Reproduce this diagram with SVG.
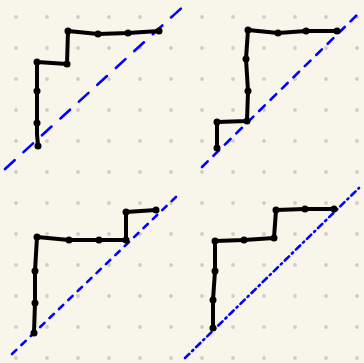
<svg xmlns="http://www.w3.org/2000/svg" width="364" height="363" viewBox="0 0 364 363">
<defs>
<style>
.bg{fill:#f8f6ea}
.grid circle{fill:#cfcdc5}
.stair{fill:none;stroke:#000;stroke-width:4;stroke-linejoin:round;stroke-linecap:round}
.v{fill:#000}
.diag{fill:none;stroke:#0000ff;stroke-width:2.6;stroke-linecap:round}
</style>
<pattern id="dots" x="0" y="0" width="31" height="31" patternUnits="userSpaceOnUse">
<circle cx="16" cy="17" r="1.9" fill="#cfcdc5"/>
</pattern>
</defs>
<rect class="bg" x="0" y="0" width="364" height="363"/>
<rect x="0" y="0" width="364" height="363" fill="url(#dots)"/>
<g id="connectors">
<path class="diag" d="M5,169 L187,3" stroke-dasharray="13 12"/>
<path class="diag" d="M202,167 L359,13" stroke-dasharray="8 8"/>
<path class="diag" d="M12,354 L177,196" stroke-dasharray="6 7"/>
<path class="diag" d="M185,358 L359,188" stroke-dasharray="6 4 1.5 4"/>
</g>
<g id="stair1">
<path class="stair" d="M38,146 L37,134 L37,123 L37,91 L37,62 L67,64 L68,31 L98,34 L128,33 L159,31"/>
<g class="v"><circle cx="38" cy="146" r="3.5"/><circle cx="37" cy="123" r="3.5"/><circle cx="37" cy="91" r="3.5"/><circle cx="37" cy="62" r="3.5"/><circle cx="67" cy="64" r="3.5"/><circle cx="68" cy="31" r="3.5"/><circle cx="98" cy="34" r="3.5"/><circle cx="128" cy="33" r="3.5"/><circle cx="159" cy="31" r="3.5"/></g>
</g>
<g id="stair2">
<path class="stair" d="M217,148 L217,122 L247,121 L248,91 L246,59 L248,30 L278,33 L306,31 L337,31"/>
<g class="v"><circle cx="217" cy="148" r="3.5"/><circle cx="217" cy="122" r="3.5"/><circle cx="247" cy="121" r="3.5"/><circle cx="248" cy="91" r="3.5"/><circle cx="246" cy="59" r="3.5"/><circle cx="248" cy="30" r="3.5"/><circle cx="278" cy="33" r="3.5"/><circle cx="306" cy="31" r="3.5"/><circle cx="337" cy="31" r="3.5"/></g>
</g>
<g id="stair3">
<path class="stair" d="M34,333 L35,303 L35,271 L37,237 L69,240 L99,240 L126,240 L126,212 L156,210"/>
<g class="v"><circle cx="34" cy="333" r="3.5"/><circle cx="35" cy="303" r="3.5"/><circle cx="35" cy="271" r="3.5"/><circle cx="37" cy="237" r="3.5"/><circle cx="69" cy="240" r="3.5"/><circle cx="99" cy="240" r="3.5"/><circle cx="126" cy="240" r="3.5"/><circle cx="126" cy="212" r="3.5"/><circle cx="156" cy="210" r="3.5"/></g>
</g>
<g id="stair4">
<path class="stair" d="M213,328 L213,300 L215,271 L215,241 L244,240 L274,238 L276,210 L305,209 L334,209"/>
<g class="v"><circle cx="213" cy="328" r="3.5"/><circle cx="213" cy="300" r="3.5"/><circle cx="215" cy="271" r="3.5"/><circle cx="215" cy="241" r="3.5"/><circle cx="244" cy="240" r="3.5"/><circle cx="274" cy="238" r="3.5"/><circle cx="276" cy="210" r="3.5"/><circle cx="305" cy="209" r="3.5"/><circle cx="334" cy="209" r="3.5"/></g>
</g>
</svg>
